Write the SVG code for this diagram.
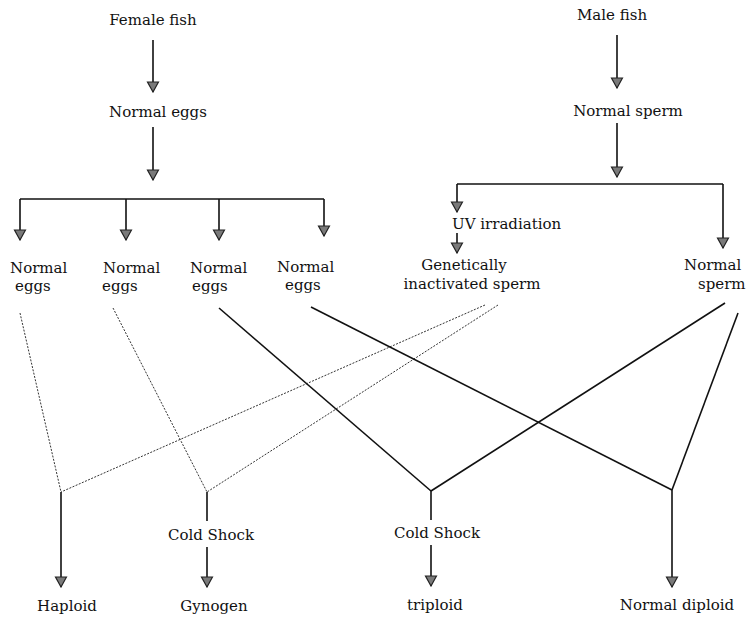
<svg xmlns="http://www.w3.org/2000/svg" width="748" height="622" viewBox="0 0 748 622">
<style>
.t{font-family:"DejaVu Serif","Liberation Serif",serif;font-size:15px;fill:#111}
.m{text-anchor:middle}
.ln{stroke:#111;stroke-width:1.6;fill:none}
.dt{stroke:#333;stroke-width:1;fill:none;stroke-dasharray:2 1.4}
</style>
<defs>
<marker id="ah" viewBox="-1 -7 12 14" refX="10" refY="0" markerUnits="userSpaceOnUse" markerWidth="12" markerHeight="14" orient="auto">
<path d="M0,-5.5 L10,0 L0,5.5 Z" fill="#7a7a7a" stroke="#222" stroke-width="1.2" stroke-linejoin="miter"/>
</marker>
</defs>
<rect width="748" height="622" fill="#fff"/>
<g id="connectors">
<line class="ln" x1="153" y1="40" x2="153" y2="92" marker-end="url(#ah)"/>
<line class="ln" x1="153" y1="127" x2="153" y2="180" marker-end="url(#ah)"/>
<path class="ln" d="M20,199 H324"/>
<line class="ln" x1="20" y1="199" x2="20" y2="240" marker-end="url(#ah)"/>
<line class="ln" x1="126" y1="199" x2="126" y2="240" marker-end="url(#ah)"/>
<line class="ln" x1="219" y1="199" x2="219" y2="240" marker-end="url(#ah)"/>
<line class="ln" x1="324" y1="199" x2="324" y2="236" marker-end="url(#ah)"/>
<line class="ln" x1="617" y1="35" x2="617" y2="88" marker-end="url(#ah)"/>
<line class="ln" x1="617" y1="123" x2="617" y2="177" marker-end="url(#ah)"/>
<path class="ln" d="M457,184 H723"/>
<line class="ln" x1="457" y1="184" x2="457" y2="212" marker-end="url(#ah)"/>
<line class="ln" x1="723" y1="184" x2="723" y2="248" marker-end="url(#ah)"/>
<line class="ln" x1="457" y1="233" x2="457" y2="253" marker-end="url(#ah)"/>
<line class="dt" x1="20" y1="313" x2="61" y2="492"/>
<line class="dt" x1="113" y1="308" x2="207" y2="492"/>
<line class="dt" x1="485" y1="305" x2="61" y2="492"/>
<line class="dt" x1="498" y1="305" x2="207" y2="492"/>
<line class="ln" x1="219" y1="308" x2="431" y2="491"/>
<line class="ln" x1="311" y1="307" x2="672" y2="490"/>
<line class="ln" x1="725" y1="303" x2="431" y2="491"/>
<line class="ln" x1="738" y1="313" x2="672" y2="490"/>
<line class="ln" x1="61" y1="492" x2="61" y2="587" marker-end="url(#ah)"/>
<line class="ln" x1="207" y1="492" x2="207" y2="521"/>
<line class="ln" x1="207" y1="547" x2="207" y2="587" marker-end="url(#ah)"/>
<line class="ln" x1="431" y1="491" x2="431" y2="520"/>
<line class="ln" x1="431" y1="545" x2="431" y2="586" marker-end="url(#ah)"/>
<line class="ln" x1="672" y1="490" x2="672" y2="587" marker-end="url(#ah)"/>
</g>
<g id="female-fish"><text class="t m" x="153" y="25">Female fish</text></g>
<g id="normal-eggs"><text class="t m" x="158" y="117">Normal eggs</text></g>
<g id="eggs-1"><text class="t" x="10" y="273">Normal</text><text class="t" x="15" y="291">eggs</text></g>
<g id="eggs-2"><text class="t" x="103" y="273">Normal</text><text class="t" x="102" y="291">eggs</text></g>
<g id="eggs-3"><text class="t" x="190" y="273">Normal</text><text class="t" x="192" y="291">eggs</text></g>
<g id="eggs-4"><text class="t" x="277" y="272">Normal</text><text class="t" x="285" y="290">eggs</text></g>
<g id="male-fish"><text class="t m" x="612" y="20">Male fish</text></g>
<g id="normal-sperm"><text class="t m" x="628" y="116">Normal sperm</text></g>
<g id="uv-irradiation"><text class="t" x="452" y="229">UV irradiation</text></g>
<g id="inactivated-sperm"><text class="t m" x="464" y="270">Genetically</text><text class="t m" x="472" y="289">inactivated sperm</text></g>
<g id="normal-sperm-2"><text class="t" x="684" y="270">Normal</text><text class="t" x="698" y="289">sperm</text></g>
<g id="cold-shock-1"><text class="t m" x="211" y="540">Cold Shock</text></g>
<g id="cold-shock-2"><text class="t m" x="437" y="538">Cold Shock</text></g>
<g id="haploid"><text class="t m" x="67" y="611">Haploid</text></g>
<g id="gynogen"><text class="t m" x="214" y="611">Gynogen</text></g>
<g id="triploid"><text class="t m" x="435" y="610">triploid</text></g>
<g id="normal-diploid"><text class="t m" x="677" y="610">Normal diploid</text></g>
</svg>
